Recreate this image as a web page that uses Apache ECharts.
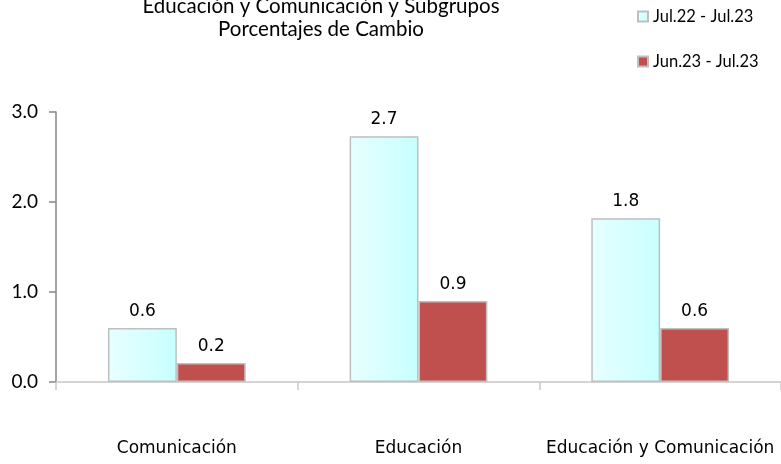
<!DOCTYPE html>
<html>
<head>
<meta charset="utf-8">
<script src="https://cdn.jsdelivr.net/npm/echarts@6/dist/echarts.min.js"></script>
<style>html,body{margin:0;padding:0;background:#fff;}#c{width:781px;height:464px;}</style>
</head>
<body>
<div id="c"></div>
<script>
var categories = ['Comunicación', 'Educación', 'Educación y Comunicación'];
var seriesNames = ['Jul.22 - Jul.23', 'Jun.23 - Jul.23'];
var annual = [0.6, 2.73, 1.82];
var monthly = [0.21, 0.9, 0.6];
var yTicks = [0, 1, 2, 3];

var chart = echarts.init(document.getElementById('c'), null, {renderer: 'canvas'});
var labelStyle = {show: true, position: 'top', distance: 8, fontFamily: 'DejaVu Sans', fontSize: 17, color: '#000', formatter: function(p){return p.value.toFixed(1);}};
chart.setOption({
  animation: false,
  backgroundColor: '#fff',
  title: {
    text: 'Educación y Comunicación y Subgrupos\nPorcentajes de Cambio',
    left: 316, textAlign: 'center', top: -10,
    textStyle: {fontFamily: 'Lato', fontSize: 20.5, fontWeight: 'normal', color: '#000', lineHeight: 23}
  },
  legend: {
    orient: 'vertical', left: 632, top: 3, itemWidth: 10, itemHeight: 10, itemGap: 28,
    icon: 'rect',
    textStyle: {fontFamily: 'Lato', fontSize: 16.5, color: '#000'},
    data: seriesNames
  },
  grid: {left: 56, top: 112, width: 726, height: 270, containLabel: false},
  xAxis: {
    type: 'category', data: categories,
    axisLine: {lineStyle: {color: '#c8c8c8', width: 1.5}},
    axisTick: {show: true, length: 8, lineStyle: {color: '#c8c8c8', width: 1.5}},
    axisLabel: {interval: 0, margin: 58, fontFamily: 'DejaVu Sans', fontSize: 17, color: '#000'}
  },
  yAxis: {
    type: 'value', min: yTicks[0], max: yTicks[yTicks.length-1], interval: 1,
    axisLine: {show: true, lineStyle: {color: '#868686', width: 1.5}},
    axisTick: {show: true, length: 7, lineStyle: {color: '#868686', width: 1.5}},
    splitLine: {show: false},
    axisLabel: {margin: 18, fontFamily: 'Lato', fontSize: 19, color: '#000', formatter: function(v){return v.toFixed(1);}}
  },
  series: [
    {
      name: seriesNames[0], type: 'bar', data: annual, barGap: '0%', barCategoryGap: '43%',
      itemStyle: {
        color: new echarts.graphic.LinearGradient(0, 0, 1, 0, [{offset: 0, color: '#e8ffff'}, {offset: 1, color: '#c8ffff'}]),
        borderColor: '#bfbfbf', borderWidth: 1.5
      },
      label: labelStyle
    },
    {
      name: seriesNames[1], type: 'bar', data: monthly, barGap: '0%', barCategoryGap: '43%',
      itemStyle: {color: '#c0504d', borderColor: '#bfbfbf', borderWidth: 1.5},
      label: labelStyle
    }
  ]
});
</script>
</body>
</html>
